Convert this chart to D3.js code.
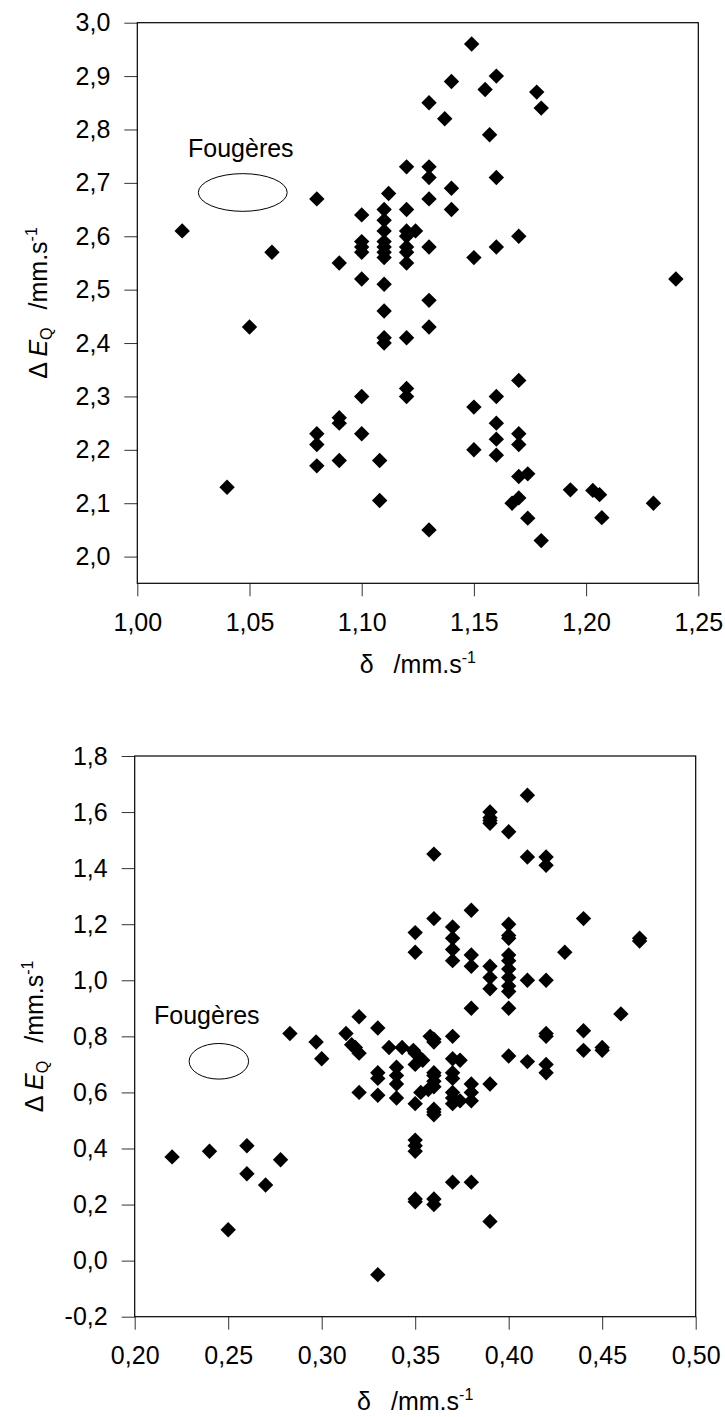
<!DOCTYPE html>
<html>
<head>
<meta charset="utf-8">
<script src="https://cdn.jsdelivr.net/npm/d3@7"></script>
<style>
body { margin: 0; background: #fff; }
text { font-family: "Liberation Sans", Arial, sans-serif; fill: #000; }
</style>
</head>
<body>
<script>
// ---- top panel: isomer shift / quadrupole splitting ----
var topShift = [1.02, 1.04, 1.05, 1.06, 1.08, 1.08, 1.08, 1.08, 1.09, 1.09, 1.09, 1.09,
	1.10, 1.10, 1.10, 1.10, 1.10, 1.10, 1.10, 1.108, 1.108,
	1.11, 1.11, 1.11, 1.11, 1.11, 1.11, 1.11, 1.11, 1.11, 1.11, 1.11, 1.112,
	1.12, 1.12, 1.12, 1.124, 1.12, 1.12, 1.12, 1.12, 1.12, 1.12, 1.12,
	1.13, 1.13, 1.13, 1.13, 1.13, 1.13, 1.13, 1.13, 1.137, 1.14, 1.14, 1.14,
	1.149, 1.15, 1.15, 1.15, 1.155, 1.157, 1.16, 1.16, 1.16, 1.16, 1.16, 1.16, 1.16,
	1.167, 1.17, 1.17, 1.17, 1.17, 1.17, 1.17, 1.174, 1.174, 1.178, 1.18, 1.18,
	1.193, 1.203, 1.206, 1.207, 1.23, 1.24];
var topSplit = [2.61, 2.13, 2.43, 2.57, 2.67, 2.23, 2.21, 2.17, 2.55, 2.26, 2.25, 2.18,
	2.64, 2.59, 2.58, 2.57, 2.52, 2.30, 2.23, 2.18, 2.105,
	2.65, 2.63, 2.61, 2.59, 2.58, 2.57, 2.56, 2.51, 2.46, 2.41, 2.40, 2.68,
	2.73, 2.65, 2.61, 2.61, 2.60, 2.58, 2.57, 2.55, 2.41, 2.315, 2.30,
	2.85, 2.73, 2.71, 2.67, 2.58, 2.48, 2.43, 2.05, 2.82, 2.89, 2.69, 2.65,
	2.96, 2.56, 2.28, 2.20, 2.875, 2.79, 2.90, 2.71, 2.58, 2.30, 2.25, 2.22, 2.19,
	2.10, 2.60, 2.33, 2.23, 2.21, 2.15, 2.11, 2.155, 2.072, 2.87, 2.84, 2.03,
	2.125, 2.124, 2.116, 2.073, 2.10, 2.52];
var topXTicks = [1.00, 1.05, 1.10, 1.15, 1.20, 1.25];
var topYTicks = [2.0, 2.1, 2.2, 2.3, 2.4, 2.5, 2.6, 2.7, 2.8, 2.9, 3.0];
// fern reference zone: centre and half widths
var topFern = [1.047, 2.682, 0.0198, 0.0353];

// ---- bottom panel ----
var botShift = [0.22, 0.24, 0.25, 0.26, 0.26, 0.27, 0.278, 0.283, 0.297, 0.30,
	0.313, 0.316, 0.318, 0.32, 0.32, 0.32, 0.33, 0.33, 0.33, 0.33, 0.33,
	0.336, 0.343, 0.34, 0.34, 0.34, 0.34, 0.349, 0.35, 0.35, 0.354, 0.353, 0.35,
	0.35, 0.35, 0.35, 0.35, 0.35, 0.35, 0.35,
	0.358, 0.36, 0.36, 0.36, 0.36, 0.36, 0.36, 0.357, 0.36, 0.36, 0.36, 0.36, 0.36, 0.36, 0.36,
	0.37, 0.37, 0.37, 0.37, 0.37, 0.37, 0.374, 0.37, 0.37, 0.37, 0.37, 0.37, 0.374, 0.37,
	0.38, 0.38, 0.38, 0.38, 0.38, 0.38, 0.38, 0.38,
	0.39, 0.39, 0.39, 0.39, 0.39, 0.39, 0.39, 0.39, 0.39,
	0.40, 0.40, 0.40, 0.40, 0.40, 0.40, 0.40, 0.40, 0.40, 0.40, 0.40, 0.40,
	0.41, 0.41, 0.41, 0.41, 0.42, 0.42, 0.42, 0.42, 0.42, 0.42, 0.42,
	0.43, 0.44, 0.44, 0.44, 0.45, 0.45, 0.46, 0.47, 0.47];
var botSplit = [0.37, 0.39, 0.11, 0.41, 0.31, 0.27, 0.36, 0.81, 0.78, 0.72,
	0.81, 0.77, 0.76, 0.74, 0.87, 0.60, 0.83, 0.67, 0.65, 0.59, -0.05,
	0.76, 0.76, 0.69, 0.66, 0.63, 0.58, 0.75, 0.74, 0.70, 0.715, 0.60, 0.56,
	1.17, 1.10, 0.43, 0.41, 0.39, 0.22, 0.21,
	0.80, 0.79, 0.78, 0.67, 0.66, 0.64, 0.62, 0.61, 0.54, 0.53, 0.52, 1.45, 1.22, 0.22, 0.20,
	1.19, 1.15, 1.11, 1.07, 0.80, 0.72, 0.715, 0.67, 0.65, 0.60, 0.58, 0.56, 0.57, 0.28,
	1.25, 1.09, 1.05, 0.90, 0.63, 0.60, 0.57, 0.28,
	1.60, 1.58, 1.57, 1.56, 1.05, 1.01, 0.97, 0.63, 0.14,
	1.53, 1.20, 1.16, 1.15, 1.09, 1.07, 1.04, 1.01, 0.98, 0.96, 0.90, 0.73,
	1.66, 1.44, 1.00, 0.71, 1.44, 1.41, 1.00, 0.81, 0.80, 0.70, 0.67,
	1.10, 1.22, 0.82, 0.75, 0.76, 0.75, 0.88, 1.15, 1.14];
var botXTicks = [0.20, 0.25, 0.30, 0.35, 0.40, 0.45, 0.50];
var botYTicks = [-0.2, 0.0, 0.2, 0.4, 0.6, 0.8, 1.0, 1.2, 1.4, 1.6, 1.8];
var botFern = [0.245, 0.711, 0.0159, 0.0635];

var fr = d3.formatLocale({decimal: ",", thousands: " ", grouping: [3], currency: ["", " €"], minus: "-"});
var fontSize = 25;
var smallSize = 16;

var svg = d3.select("body").append("svg")
	.attr("width", 725)
	.attr("height", 1417);

function diamond(r){
	return 'M0,' + (-r) + ' L' + r + ',0 L0,' + r + ' L' + (-r) + ',0 Z';
}

function drawPanel(p){
	var x = d3.scaleLinear().domain(p.xDomain).range([p.left, p.left + p.w]);
	var y = d3.scaleLinear().domain(p.yDomain).range([p.top + p.h, p.top]);

	var g = svg.append('g');

	var xAxis = g.append('g')
		.attr('transform', 'translate(0,' + (p.top + p.h) + ')')
		.call(d3.axisBottom(x).tickValues(p.xTicks).tickSize(13).tickPadding(17)
			.tickFormat(fr.format('.2f')));
	var yAxis = g.append('g')
		.attr('transform', 'translate(' + p.left + ',0)')
		.call(d3.axisLeft(y).tickValues(p.yTicks).tickSize(13).tickPadding(14)
			.tickFormat(fr.format('.1f')));

	[xAxis, yAxis].forEach(function(a){
		a.select('.domain').remove();
		a.attr('font-size', fontSize).attr('font-family', null);
		a.selectAll('line').attr('stroke', '#333');
	});

	// frame
	g.append('rect')
		.attr('x', p.left).attr('y', p.top)
		.attr('width', p.w).attr('height', p.h)
		.attr('fill', 'none')
		.attr('stroke', '#000')
		.attr('stroke-width', 1.2);

	// fern zone
	g.append('ellipse')
		.attr('cx', x(p.fern[0])).attr('cy', y(p.fern[1]))
		.attr('rx', x(p.fern[0] + p.fern[2]) - x(p.fern[0]))
		.attr('ry', y(p.fern[1] - p.fern[3]) - y(p.fern[1]))
		.attr('fill', 'none').attr('stroke', '#000').attr('stroke-width', 1);
	g.append('text')
		.attr('x', p.fernLabel[0]).attr('y', p.fernLabel[1])
		.attr('font-size', fontSize)
		.text('Fougères');

	var pts = p.xs.map(function(v, i){ return [v, p.ys[i]]; });
	g.selectAll('path.pt')
		.data(pts)
		.enter()
		.append('path')
		.attr('class', 'pt')
		.attr('d', diamond(7.7))
		.attr('transform', function(d){ return 'translate(' + x(d[0]) + ',' + y(d[1]) + ')'; })
		.attr('fill', '#000');

	// x title
	var xt = g.append('text')
		.attr('x', p.left + p.w/2)
		.attr('y', p.top + p.h + p.xTitleGap)
		.attr('text-anchor', 'middle')
		.attr('font-size', fontSize);
	xt.append('tspan').text('δ');
	xt.append('tspan').attr('dx', 20).text('/mm.s');
	xt.append('tspan').attr('font-size', smallSize).attr('dy', -10).text('-1');

	// y title
	var yt = g.append('text')
		.attr('transform', 'translate(' + p.yTitleX + ',' + (p.top + p.h/2) + ') rotate(-90)')
		.attr('text-anchor', 'middle')
		.attr('font-size', fontSize);
	yt.append('tspan').text('Δ ');
	yt.append('tspan').attr('font-style', 'italic').text('E');
	yt.append('tspan').attr('font-size', smallSize).attr('dy', 5).text('Q');
	yt.append('tspan').attr('dy', -5).attr('dx', 18).text('/mm.s');
	yt.append('tspan').attr('font-size', smallSize).attr('dy', -10).text('-1');
}

drawPanel({
	xs: topShift, ys: topSplit,
	xDomain: [1.0, 1.25], yDomain: [1.95, 3.0],
	xTicks: topXTicks, yTicks: topYTicks,
	left: 137.3, top: 22.7, w: 561, h: 560.6,
	fern: topFern, fernLabel: [188, 157],
	xTitleGap: 90, yTitleX: 47
});

drawPanel({
	xs: botShift, ys: botSplit,
	xDomain: [0.2, 0.5], yDomain: [-0.2, 1.8],
	xTicks: botXTicks, yTicks: botYTicks,
	left: 134.7, top: 756, w: 561, h: 560.7,
	fern: botFern, fernLabel: [154, 1024],
	xTitleGap: 93, yTitleX: 43
});
</script>
</body>
</html>
